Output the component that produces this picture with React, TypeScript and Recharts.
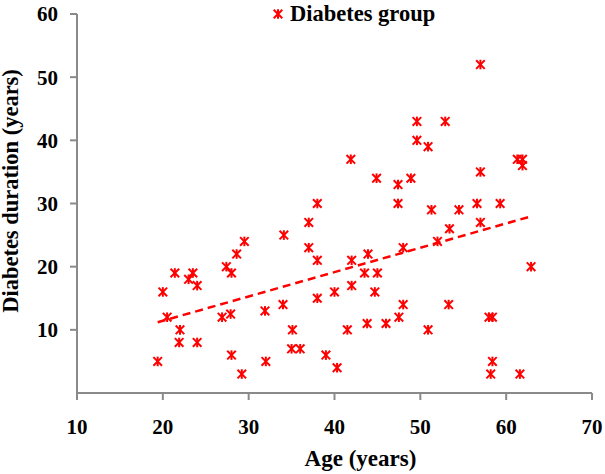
import React from 'react';
import { ScatterChart, Scatter, XAxis, YAxis, ReferenceLine } from 'recharts';

const ages = [
  19.4, 20, 20.5, 21.4, 22, 21.9, 23, 23.5, 24, 24,
  26.9, 27.4, 27.9, 28, 28, 28.6, 29.2, 29.5, 31.9, 32,
  34, 34.1, 35.1, 35, 36, 37, 37, 38, 38, 38,
  39, 40, 40.3, 41.5, 41.9, 42, 42, 43.5, 43.9, 43.8,
  44.9, 45, 44.7, 46, 47.4, 47.4, 47.5, 48, 48, 48.9,
  49.6, 49.6, 50.9, 50.9, 51.3, 52, 52.9, 53.4, 53.3, 54.5,
  56.6, 57, 57, 57, 58, 58.4, 58.2, 58.4, 59.3, 61.3,
  61.9, 61.9, 61.6, 62.9,
];
const durations = [
  5, 16, 12, 19, 10, 8, 18, 19, 17, 8,
  12, 20, 12.5, 19, 6, 22, 3, 24, 13, 5,
  14, 25, 10, 7, 7, 27, 23, 30, 21, 15,
  6, 16, 4, 10, 37, 21, 17, 19, 22, 11,
  34, 19, 16, 11, 33, 30, 12, 23, 14, 34,
  43, 40, 39, 10, 29, 24, 43, 26, 14, 29,
  30, 52, 35, 27, 12, 12, 3, 5, 30, 37,
  37, 36, 3, 20,
];
const xTicks = [10, 20, 30, 40, 50, 60, 70];
const yTicks = [10, 20, 30, 40, 50, 60];
const trendStart = { x: 19.4, y: 11.2 };
const trendEnd = { x: 63, y: 28 };
const seriesName = 'Diabetes group';
const xTitle = 'Age (years)';
const yTitle = 'Diabetes duration (years)';

const data = ages.map((a, i) => ({ age: a, duration: durations[i] }));

const FONT = '"Liberation Serif", "Times New Roman", serif';
const RED = '#ff0000';
const AXIS = '#8a8a8a';

const Star = (props: any) => {
  const { cx, cy } = props;
  if (cx == null || cy == null) return <g />;
  const r = 4.3;
  return (
    <g stroke={RED} strokeWidth={2} strokeLinecap="butt">
      <line x1={cx - r} y1={cy - r} x2={cx + r} y2={cy + r} />
      <line x1={cx - r} y1={cy + r} x2={cx + r} y2={cy - r} />
      <line x1={cx} y1={cy - r - 0.5} x2={cx} y2={cy + r + 0.5} />
    </g>
  );
};

const YTitle = (props: any) => {
  const cx = 18;
  const cy = 191;
  return (
    <text
      x={cx}
      y={cy}
      transform={`rotate(-90, ${cx}, ${cy})`}
      textAnchor="middle"
      fontFamily={FONT}
      fontWeight="bold"
      fontSize={22.5}
      fill="#000"
    >
      {yTitle}
    </text>
  );
};

export default function App() {
  return (
    <div style={{ position: 'absolute', left: 0, top: 0, width: 605, height: 474, background: '#fff' }}>
      <ScatterChart width={605} height={474} margin={{ top: 14, right: 13, bottom: 1, left: 0 }}>
        <XAxis
          type="number"
          dataKey="age"
          domain={[10, 70]}
          ticks={xTicks}
          interval={0}
          height={80}
          tickSize={7}
          tickMargin={19}
          axisLine={{ stroke: AXIS, strokeWidth: 2 }}
          tickLine={{ stroke: AXIS, strokeWidth: 2 }}
          tick={{ fill: '#000', fontFamily: FONT, fontWeight: 'bold', fontSize: 21 }}
          label={{
            value: xTitle,
            position: 'insideBottom',
            offset: 7,
            dx: 26,
            fill: '#000',
            fontFamily: FONT,
            fontWeight: 'bold',
            fontSize: 23,
          }}
        />
        <YAxis
          type="number"
          dataKey="duration"
          domain={[0, 60]}
          ticks={yTicks}
          interval={0}
          width={77}
          tickSize={7}
          tickMargin={12}
          axisLine={{ stroke: AXIS, strokeWidth: 2 }}
          tickLine={{ stroke: AXIS, strokeWidth: 2 }}
          tick={{ fill: '#000', fontFamily: FONT, fontWeight: 'bold', fontSize: 21 }}
          label={<YTitle />}
        />
        <ReferenceLine
          segment={[trendStart, trendEnd]}
          stroke={RED}
          strokeWidth={2.5}
          strokeDasharray="8 5"
          ifOverflow="visible"
        />
        <Scatter name={seriesName} data={data} shape={Star} isAnimationActive={false} />
      </ScatterChart>
      <svg
        width={605}
        height={32}
        style={{ position: 'absolute', left: 0, top: 0, pointerEvents: 'none' }}
      >
        <Star cx={278} cy={14} />
        <text x={290} y={21} fontFamily={FONT} fontWeight="bold" fontSize={22.5} fill="#000">
          {seriesName}
        </text>
      </svg>
    </div>
  );
}
